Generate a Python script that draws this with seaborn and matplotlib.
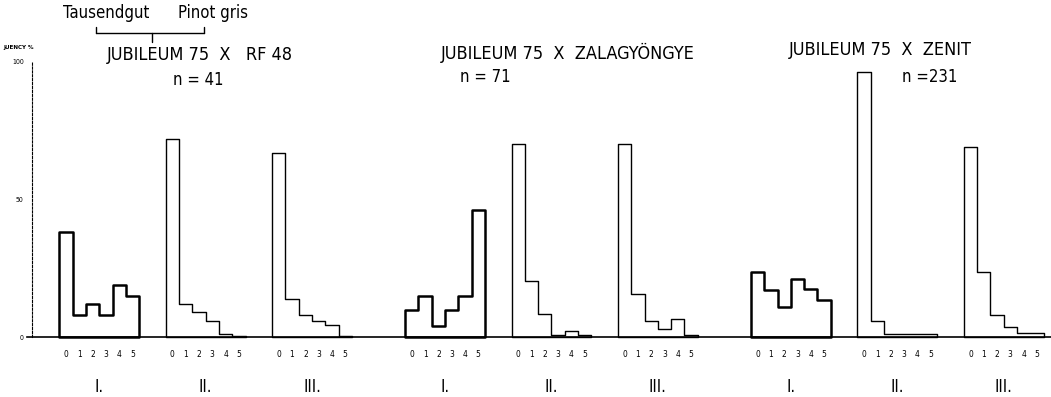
import numpy as np
import pandas as pd
import matplotlib
matplotlib.use("Agg")
import matplotlib.pyplot as plt
from matplotlib.lines import Line2D
import seaborn as sns

# ---- data (frequency %) ----
CLASSES = [0, 1, 2, 3, 4, 5]
GROUPS = ["I.", "II.", "III."]
CROSSES = ["JUBILEUM 75  X   RF 48", "JUBILEUM 75  X  ZALAGYÖNGYE", "JUBILEUM 75  X  ZENIT"]
N_PLANTS = [41, 71, 231]

rf48_I = [38, 8, 12, 8, 19, 15]
rf48_II = [72, 12, 9, 6, 1, 0.4]
rf48_III = [67, 14, 8, 6, 4.5, 0.5]
zala_I = [10, 15, 4, 10, 15, 46]
zala_II = [70, 20.5, 8.5, 0.8, 2.3, 0.6]
zala_III = [70, 15.5, 6, 3, 6.4, 0.6]
zenit_I = [23.5, 17, 11, 21, 17.5, 13.5]
zenit_II = [96.5, 6, 1, 1, 1, 1]
zenit_III = [69, 23.5, 8, 3.7, 1.5, 1.5]

FREQ = [[rf48_I, rf48_II, rf48_III],
        [zala_I, zala_II, zala_III],
        [zenit_I, zenit_II, zenit_III]]

# ---- layout, in bar widths ----
GROUP_STEP = 8
CROSS_STEP = 26
W, H = 1051, 397

rows = []
for ci, cross in enumerate(CROSSES):
    for gi, grp in enumerate(GROUPS):
        start = ci * CROSS_STEP + gi * GROUP_STEP
        for k, v in zip(CLASSES, FREQ[ci][gi]):
            rows.append({"ci": ci, "gi": gi, "cls": k, "pct": v,
                         "pos": start + k + 0.5, "start": start})
df = pd.DataFrame(rows)

sns.set_style("white")
plt.rcParams["font.family"] = ["DejaVu Sans"]
plt.rcParams["font.stretch"] = "condensed"
plt.rcParams["text.color"] = "black"

fig = plt.figure(figsize=(W / 100, H / 100), dpi=100)
ax = fig.add_axes([0, 0, 1, 1])

for (ci, gi), sub in df.groupby(["ci", "gi"]):
    start = sub["start"].iloc[0]
    sns.histplot(data=sub, x="pos", weights="pct", binwidth=1,
                 binrange=(start, start + len(CLASSES)),
                 element="step", fill=True, color="black", facecolor="none",
                 edgecolor="black", linewidth=1.8 if gi == 0 else 1.0, ax=ax)

ax.set_xlim(-4.46, 74.56)
ax.set_ylim(-21.8, 122.5)
ax.set_xlabel("")
ax.set_ylabel("")
ax.set_facecolor("white")

for s in ["top", "right"]:
    ax.spines[s].set_visible(False)
ax.spines["bottom"].set_position(("data", 0))
ax.spines["bottom"].set_bounds(-2.43, 74.56)
ax.spines["bottom"].set_linewidth(1.2)
ax.spines["bottom"].set_color("black")
ax.spines["left"].set_position(("data", -2.05))
ax.spines["left"].set_bounds(0, 100)
ax.spines["left"].set_linestyle((0, (2, 1.5)))
ax.spines["left"].set_linewidth(0.8)
ax.spines["left"].set_color("black")

ax.set_yticks([0, 50, 100])
ax.set_yticklabels(["0", "50", "100"], fontsize=5)
ax.tick_params(axis="y", direction="out", length=5, width=0.8, pad=1, colors="black")

ax.set_xticks(df["pos"])
ax.set_xticklabels(df["cls"].astype(str), fontsize=6)
ax.tick_params(axis="x", length=0, pad=9, colors="black")

# group labels under each histogram
for (ci, gi), sub in df.groupby(["ci", "gi"]):
    ax.text(sub["start"].iloc[0] + 3, -18, GROUPS[gi], ha="center", va="center", fontsize=12)

def px(x, y):
    return x / W, 1 - y / H

title_xy = [(200, 55), (568, 53), (880, 50)]
n_xy = [(198, 80), (485, 77), (930, 77)]
for ci, cross in enumerate(CROSSES):
    fig.text(*px(*title_xy[ci]), cross, ha="center", va="center", fontsize=13)
    sep = " = " if ci < 2 else " ="
    fig.text(*px(*n_xy[ci]), f"n{sep}{N_PLANTS[ci]}", ha="center", va="center", fontsize=12)

fig.text(*px(106, 13), "Tausendgut", ha="center", va="center", fontsize=12)
fig.text(*px(213, 13), "Pinot gris", ha="center", va="center", fontsize=12)
fig.text(*px(3, 47), "JUENCY %", ha="left", va="center", fontsize=4.5, fontweight="bold")

# parent bracket
for xs, ys in [((96, 204), (33, 33)), ((96, 96), (27, 33)), ((204, 204), (27, 33)),
               ((152, 152), (33, 42))]:
    fig.add_artist(Line2D([x / W for x in xs], [1 - y / H for y in ys],
                          color="black", lw=1.0, transform=fig.transFigure))

fig.savefig("out.png", dpi=100, facecolor="white")
